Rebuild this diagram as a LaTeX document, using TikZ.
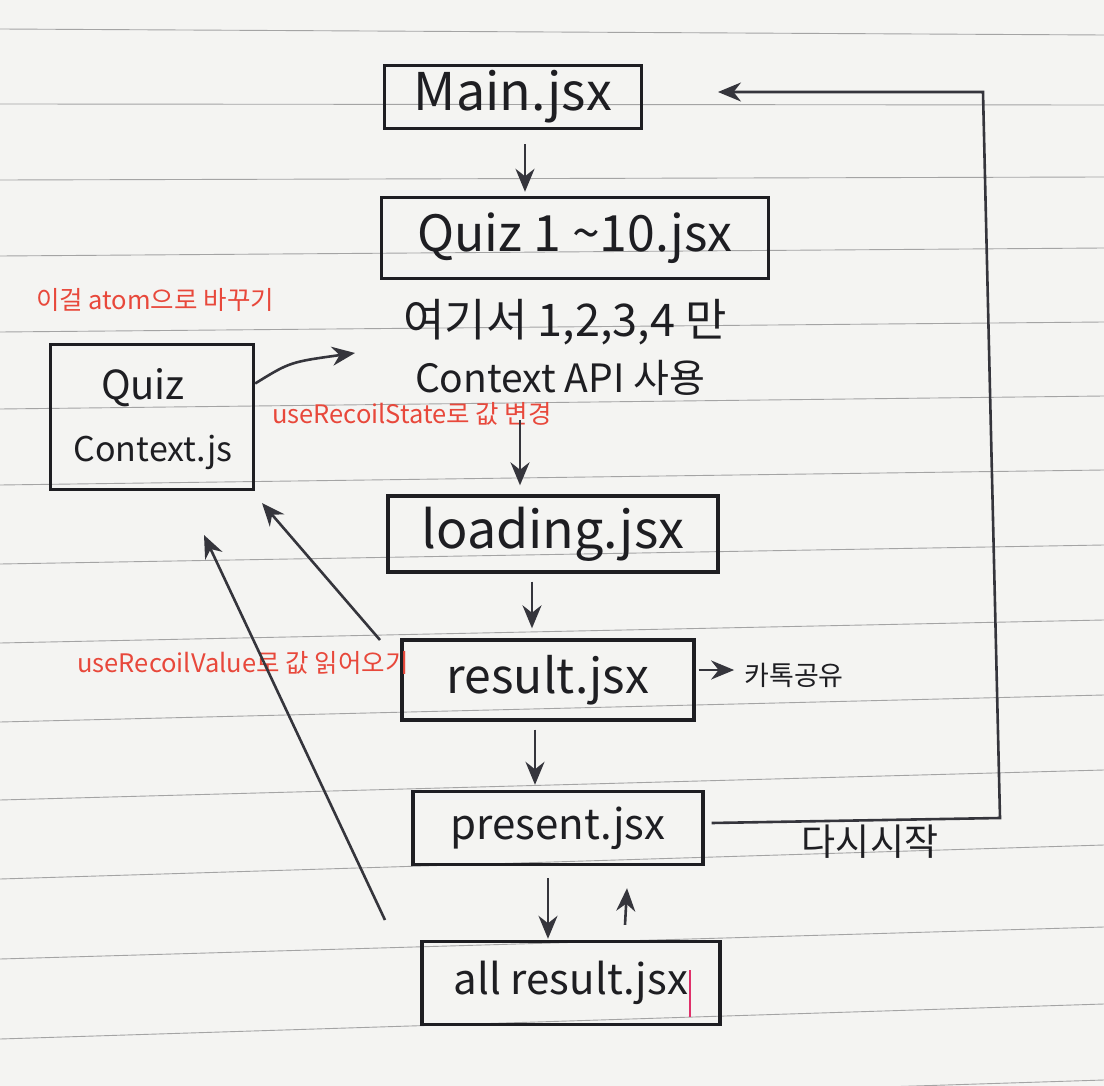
\documentclass[tikz,border=0pt]{standalone}
\usepackage{fontspec}
\setmainfont{Noto Sans CJK KR}
\usetikzlibrary{arrows.meta}
\definecolor{paper}{HTML}{F4F4F2}
\definecolor{rule}{HTML}{A4A4A4}
\definecolor{ink}{HTML}{1E1E22}
\definecolor{pen}{HTML}{35353C}
\definecolor{redtxt}{HTML}{E8483B}
\definecolor{cursor}{HTML}{E0306A}
\tikzset{
  box/.style={draw=ink, line width=3.4pt, rectangle, inner sep=0pt, text=ink, align=center},
  hand/.style={text=ink, inner sep=0pt, align=center},
  note/.style={text=redtxt, inner sep=0pt, font=\fontsize{25.5}{28}\selectfont},
  arr/.style={draw=pen, line width=2.6pt, -{Stealth[length=23pt,width=19pt]}},
  ruleline/.style={draw=rule, line width=0.9pt}
}
\begin{document}
\begin{tikzpicture}[x=1pt,y=-1pt]
\fill[paper] (0,0) rectangle (1104,1086);
\begin{scope}
\clip (0,0) rectangle (1104,1086);
\foreach \a/\b in {29/35,104/105,180/177,256/248,332/322,409/396,485/470,564/545,643/620,722/695,800/770,879/845,959/927,1039/1004,1115/1080}
  \draw[ruleline] (0,\a) -- (1104,\b);
\end{scope}

% boxes
\node[box, minimum width=257pt, minimum height=63pt, font=\fontsize{52}{56}\selectfont] (main) at (513,97) {Main.jsx};
\node[box, minimum width=387pt, minimum height=81pt, font=\fontsize{50}{56}\selectfont] (quiz) at (575,238) {Quiz 1 {\char126}10.jsx};
\node[box, minimum width=203pt, minimum height=145pt] (ctx) at (152,417) {};
\node[hand, font=\fontsize{40}{44}\selectfont] (ctxA) at (143,388) {Quiz};
\node[hand, font=\fontsize{34}{38}\selectfont] (ctxB) at (153,452) {Context.js};
\node[box, minimum width=330pt, minimum height=76pt, font=\fontsize{52}{56}\selectfont] (loading) at (553,534) {loading.jsx};
\node[box, minimum width=292pt, minimum height=80pt, font=\fontsize{48}{54}\selectfont] (result) at (548,680) {result.jsx};
\node[box, minimum width=290pt, minimum height=73pt, font=\fontsize{42}{50}\selectfont] (present) at (558,828) {present.jsx};
\node[box, minimum width=298pt, minimum height=83pt, font=\fontsize{42}{50}\selectfont] (all) at (571,983) {all result.jsx};

% handwritten texts
\node[hand, font=\fontsize{45}{48}\selectfont] (here) at (565,322) {여기서 1,2,3,4 만};
\node[hand, font=\fontsize{39}{42}\selectfont] (ctxapi) at (560,378) {Context API 사용};
\node[hand, font=\fontsize{27}{30}\selectfont] (kakao) at (794,675) {카톡공유};
\node[hand, font=\fontsize{37}{40}\selectfont] (restart) at (870,842) {다시시작};

% red notes
\node[note] (atom) at (155,300) {이걸 atom으로 바꾸기};
\node[note] (state) at (412,414) {useRecoilState로 값 변경};
\node[note] (value) at (243,663) {useRecoilValue로 값 읽어오기};

% cursor in all result
\draw[cursor, line width=2pt] ([xshift=119pt,yshift=13pt]all.center) -- ([xshift=119pt,yshift=-34pt]all.center);

% coordinates for free ends
\coordinate (ctxTip) at (355,353);
\coordinate (rvStart1) at (380,640);
\coordinate (rvTip1) at (262,503);
\coordinate (rvStart2) at (385,920);
\coordinate (rvTip2) at (204,535);
\coordinate (restartA) at (1000,818);
\coordinate (restartB) at (983,92);
\coordinate (restartTip) at (718,92);

% flow arrows
\draw[arr] ([xshift=12pt,yshift=-14pt]main.south) -- ([xshift=-50pt,yshift=4pt]quiz.north);
\draw[arr] ([xshift=-40pt,yshift=-24pt]ctxapi.south) -- ([xshift=-33pt,yshift=9pt]loading.north);
\draw[arr] ([xshift=-21pt,yshift=-8pt]loading.south) -- ([xshift=-16pt,yshift=10pt]result.north);
\draw[arr] ([xshift=-13pt,yshift=-8pt]result.south) -- ([xshift=-23pt,yshift=5pt]present.north);
\draw[arr] ([xshift=-10pt,yshift=-12pt]present.south) -- ([xshift=-23pt,yshift=1pt]all.north);
\draw[arr] ([xshift=54pt,yshift=15pt]all.north) -- ([xshift=69pt,yshift=-22pt]present.south);
\draw[arr] ([xshift=3pt,yshift=5pt]result.east |- kakao.west) -- ([xshift=-10pt,yshift=5pt]kakao.west);

% context arrows
\draw[arr] (ctx.18) .. controls (290,362) .. (ctxTip);
\draw[arr] (rvStart1) -- (rvTip1);
\draw[arr] (rvStart2) -- (rvTip2);

% restart loop
\draw[arr] ([xshift=7pt,yshift=5pt]present.east) -- (restartA) -- (restartB) -- (restartTip);
\end{tikzpicture}
\end{document}
